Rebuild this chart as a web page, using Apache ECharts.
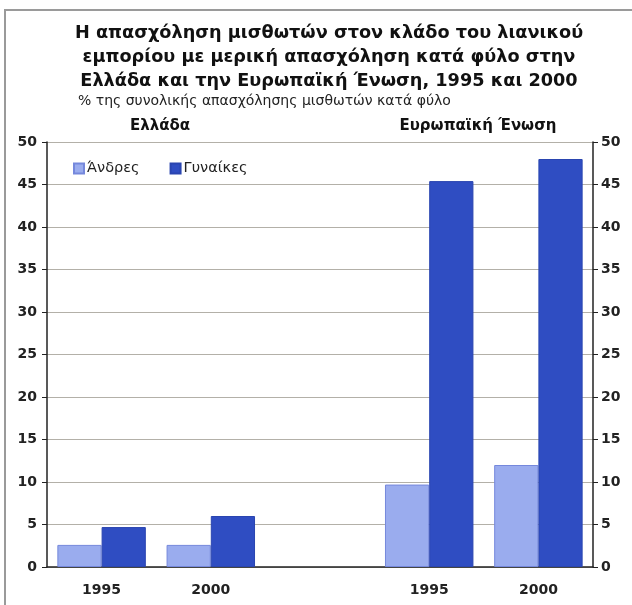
<!DOCTYPE html>
<html>
<head>
<meta charset="utf-8">
<script src="https://cdn.jsdelivr.net/npm/echarts@6/dist/echarts.min.js"></script>
<style>html,body{margin:0;padding:0;background:#fff}#c{width:632px;height:605px}</style>
</head>
<body>
<div id="c"></div>
<script>
var categories = ['1995', '2000', '', '1995', '2000'];
var menValues = [2.6, 2.6, '-', 9.7, 12.0];
var womenValues = [4.7, 6.0, '-', 45.4, 48.0];
var seriesNames = ['Άνδρες', 'Γυναίκες'];
var yTicks = [0, 5, 10, 15, 20, 25, 30, 35, 40, 45, 50];
var titleLines = ['Η απασχόληση μισθωτών στον κλάδο του λιανικού', 'εμπορίου με μερική απασχόληση κατά φύλο στην', 'Ελλάδα και την Ευρωπαϊκή Ένωση, 1995 και 2000'];
var subtitleText = '% της συνολικής απασχόλησης μισθωτών κατά φύλο';
var groupLabels = ['Ελλάδα', 'Ευρωπαϊκή Ένωση'];

var chart = echarts.init(document.getElementById('c'), null, {renderer: 'canvas'});
var FONT = 'DejaVu Sans';
var yMin = yTicks[0], yMax = yTicks[yTicks.length - 1], yInt = yTicks[1] - yTicks[0];
function yAxisCfg(pos) {
  return {
    type: 'value', position: pos, min: yMin, max: yMax, interval: yInt,
    axisLine: {show: true, lineStyle: {color: '#222', width: 1.5}},
    axisTick: {show: true, length: 5, lineStyle: {color: '#222'}},
    axisLabel: {color: '#222', fontFamily: FONT, fontWeight: 'bold', fontSize: 14, margin: pos === 'left' ? 10 : 8},
    splitLine: {show: pos === 'left', lineStyle: {color: '#b3b0a8', width: 1}}
  };
}
chart.setOption({
  animation: false,
  backgroundColor: '#fff',
  title: [
    {text: titleLines.join('\n'), left: 329, textAlign: 'center', top: 21, padding: 0,
     textStyle: {fontFamily: FONT, fontWeight: 'bold', fontSize: 17.7, lineHeight: 24, color: '#111'}},
    {text: subtitleText, left: 78, top: 94, padding: 0,
     textStyle: {fontFamily: FONT, fontWeight: 'normal', fontSize: 14, color: '#222'}},
    {text: groupLabels[0], left: 160, textAlign: 'center', top: 119, padding: 0,
     textStyle: {fontFamily: FONT, fontWeight: 'bold', fontSize: 15, color: '#111'}},
    {text: groupLabels[1], left: 478, textAlign: 'center', top: 119, padding: 0,
     textStyle: {fontFamily: FONT, fontWeight: 'bold', fontSize: 15, color: '#111'}}
  ],
  graphic: [
    {type: 'polyline', shape: {points: [[5, 605], [5, 10], [632, 10]]}, style: {stroke: '#9a9a9a', lineWidth: 2, fill: null}}
  ],
  legend: {
    left: 68, top: 156, itemWidth: 10, itemHeight: 10, itemGap: 30,
    icon: 'rect',
    textStyle: {fontFamily: FONT, fontSize: 14.5, color: '#222', padding: [0, 0, 0, -2]},
    data: seriesNames
  },
  grid: {left: 47, right: 39, top: 142, bottom: 38},
  xAxis: {
    type: 'category', data: categories,
    axisLine: {lineStyle: {color: '#222', width: 1.5}},
    axisTick: {show: false},
    axisLabel: {color: '#222', fontFamily: FONT, fontWeight: 'bold', fontSize: 14, margin: 16}
  },
  yAxis: [yAxisCfg('left'), yAxisCfg('right')],
  series: [
    {name: seriesNames[0], type: 'bar', data: menValues, barGap: '0%', barCategoryGap: '19%',
     itemStyle: {color: '#9aacee', borderColor: '#7588dc', borderWidth: 1}},
    {name: seriesNames[1], type: 'bar', data: womenValues, barGap: '0%', barCategoryGap: '19%',
     itemStyle: {color: '#2f4dc2', borderColor: '#2a45b0', borderWidth: 1}}
  ]
});
</script>
</body>
</html>
